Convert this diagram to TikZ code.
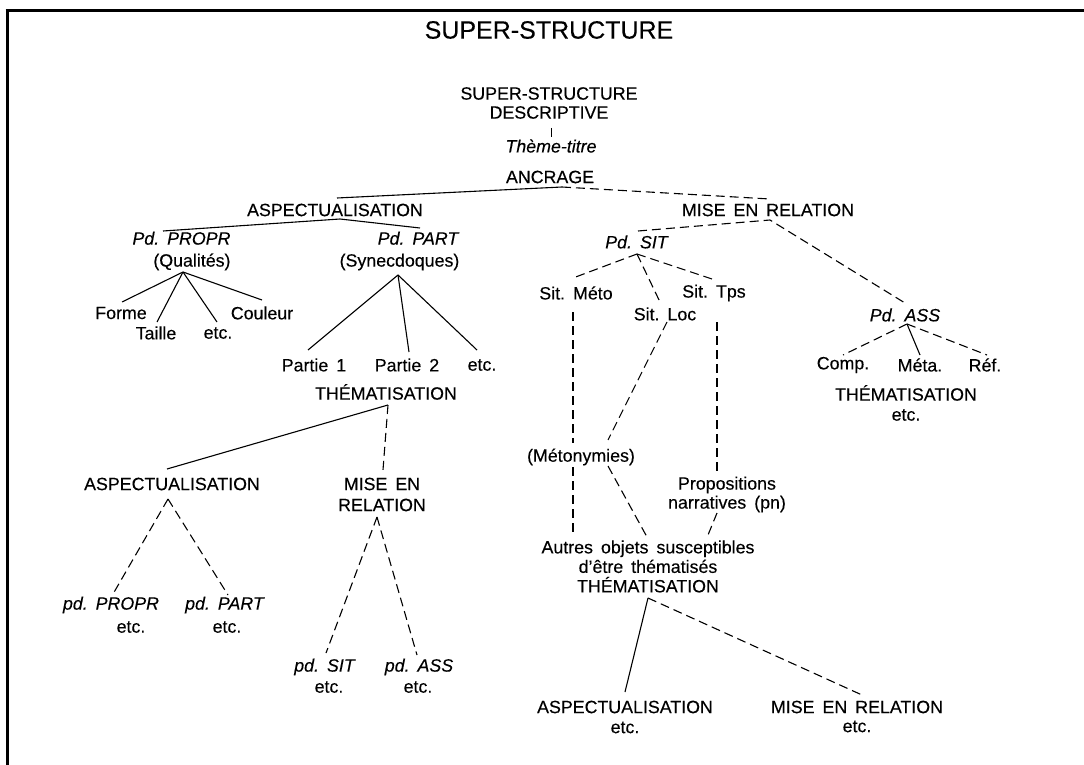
\documentclass[tikz,border=0pt]{standalone}
\usepackage{fontspec}
\setmainfont{Liberation Sans}[FakeBold=0.25]
\newcommand\lblfont{\fontsize{17.8}{20}\selectfont\spaceskip=0.45em plus 0.1em\relax\xspaceskip=0.45em plus 0.1em\relax}
\begin{document}
\begin{tikzpicture}[x=1pt,y=-1pt,
  lbl/.style={inner sep=0pt, font=\lblfont, align=center},
  ttl/.style={inner sep=0pt, font=\fontsize{25}{29}\selectfont},
  ln/.style={line width=1.1pt},
  dl/.style={line width=1.1pt, dash pattern=on 9pt off 5pt},
  frame/.style={line width=3pt}]
\useasboundingbox (0,0) rectangle (1084,765);
% partial frame
\draw[frame] (5.5,11) -- (1084,11);
\draw[frame] (7,9.5) -- (7,765);

% nodes
\node[ttl] (title) at (549,30) {SUPER-STRUCTURE};
\node[lbl] (ssd) at (549,103) {SUPER-STRUCTURE\\[-1pt]DESCRIPTIVE};
\node[lbl] (theme) at (551,146) {\textit{Thème-titre}};
\node[lbl] (ancr) at (550,177) {ANCRAGE};
\node[lbl] (asp1) at (335,210) {ASPECTUALISATION};
\node[lbl] (mer1) at (768,210) {MISE EN RELATION};
\node[lbl, align=right] (pd1) at (181.5,251) {\textit{Pd. PROPR}\\[2pt](Qualités)};
\node[lbl, align=right] (pd2) at (399.5,251) {\textit{Pd. PART}\\[2pt](Synecdoques)};
\node[lbl] (forme) at (121,313) {Forme};
\node[lbl] (taille) at (156,333) {Taille};
\node[lbl] (etc1) at (218,333) {etc.};
\node[lbl] (couleur) at (262,313) {Couleur};
\node[lbl] (part1) at (314,365) {Partie 1};
\node[lbl] (part2) at (407,365) {Partie 2};
\node[lbl] (etc2) at (482,365) {etc.};
\node[lbl] (them1) at (386,392) {THÉMATISATION};
\node[lbl] (asp2) at (172,484) {ASPECTUALISATION};
\node[lbl] (mer2) at (382,494.5) {MISE EN\\[1pt]RELATION};
\node[lbl] (pdpropr2) at (111,605) {\textit{pd. PROPR}};
\node[lbl] (etc3) at (131,627) {etc.};
\node[lbl] (pdpart2) at (225,605) {\textit{pd. PART}};
\node[lbl] (etc4) at (227,627) {etc.};
\node[lbl] (pdsit2) at (325,667) {\textit{pd. SIT}};
\node[lbl] (etc5) at (329,687) {etc.};
\node[lbl] (pdass2) at (419,667) {\textit{pd. ASS}};
\node[lbl] (etc6) at (418,687) {etc.};

\node[lbl] (pdsit) at (637,242) {\textit{Pd. SIT}};
\node[lbl] (pdass) at (905,315) {\textit{Pd. ASS}};
\node[lbl] (meto) at (576,293) {Sit. Méto};
\node[lbl] (loc) at (665,314) {Sit. Loc};
\node[lbl] (tps) at (714,293) {Sit. Tps};
\node[lbl] (meton) at (581,457) {(Métonymies)};
\node[lbl] (props) at (727,494.5) {Propositions\\[-1pt]narratives (pn)};
\node[lbl] (autres) at (648,566.5) {Autres objets susceptibles\\[-0.5pt]d’être thématisés\\[-0.5pt]THÉMATISATION};
\node[lbl] (asp3) at (625,717) {ASPECTUALISATION\\etc.};
\node[lbl] (mer3) at (857,716.5) {MISE EN RELATION\\[-1pt]etc.};
\node[lbl] (comp) at (843,365) {Comp.};
\node[lbl] (meta) at (920,365) {Méta.};
\node[lbl] (ref) at (985,365) {Réf.};
\node[lbl] (them4) at (906,403) {THÉMATISATION\\etc.};

% connectors
\draw[line width=1pt] ([shift={(2,25)}]ssd.center) -- ([shift={(0,-9)}]theme.center);
\draw[ln] ([shift={(2,-12)}]asp1.center) -- ([shift={(12,10)}]ancr.center);
\draw[dl] ([shift={(12,10)}]ancr.center) -- ([shift={(2,-11)}]mer1.center);
\draw[ln] ([shift={(-18.5,-20)}]pd1.center) -- ([shift={(5,9)}]asp1.center) -- ([shift={(20.5,-23)}]pd2.center);
% Qualités
\draw[ln] ([shift={(1.5,21)}]pd1.center) -- ([shift={(1,-11)}]forme.center);
\draw[ln] ([shift={(1.5,21)}]pd1.center) -- ([shift={(1,-11)}]taille.center);
\draw[ln] ([shift={(1.5,21)}]pd1.center) -- ([shift={(-1,-11)}]etc1.center);
\draw[ln] ([shift={(1.5,21)}]pd1.center) -- ([shift={(0,-13)}]couleur.center);
% Synecdoques
\draw[ln] ([shift={(-1.5,24)}]pd2.center) -- ([shift={(-6,-15)}]part1.center);
\draw[ln] ([shift={(-1.5,24)}]pd2.center) -- ([shift={(2,-13)}]part2.center);
\draw[ln] ([shift={(-1.5,24)}]pd2.center) -- ([shift={(-5,-15)}]etc2.center);
% Thematisation (left)
\draw[ln] ([shift={(2,13)}]them1.center) -- ([shift={(-5,-15)}]asp2.center);
\draw[dl] ([shift={(2,13)}]them1.center) -- ([shift={(1,-24.5)}]mer2.center);
\draw[dl] ([shift={(-4,15)}]asp2.center) -- ([shift={(2,-11)}]pdpropr2.center);
\draw[dl] ([shift={(-4,15)}]asp2.center) -- ([shift={(3,-10)}]pdpart2.center);
\draw[dl] ([shift={(-5,22.5)}]mer2.center) -- ([shift={(1,-14)}]pdsit2.center);
\draw[dl] ([shift={(-5,22.5)}]mer2.center) -- ([shift={(-2,-12)}]pdass2.center);
% right side
\draw[dl] ([shift={(1,-11)}]pdsit.center) -- ([shift={(2,10)}]mer1.center) -- ([shift={(0,-12)}]pdass.center);
\draw[dl] ([shift={(0,12)}]pdsit.center) -- ([shift={(-3,-15)}]meto.center);
\draw[dl] ([shift={(0,12)}]pdsit.center) -- ([shift={(-5,-12)}]loc.center);
\draw[dl] ([shift={(0,12)}]pdsit.center) -- ([shift={(1,-13)}]tps.center);
\draw[dl] ([shift={(-3,19)}]meto.center) -- ([shift={(-8,-14)}]meton.center);
\draw[dl] ([shift={(-8,10)}]meton.center) -- ([shift={(-75,-31.5)}]autres.center);
\draw[dl] ([shift={(2,8)}]loc.center) -- ([shift={(27,-17)}]meton.center);
\draw[dl] ([shift={(27,9)}]meton.center) -- ([shift={(-1,-29.5)}]autres.center);
\draw[dl] ([shift={(3,29)}]tps.center) -- ([shift={(-10,-19.5)}]props.center);
\draw[dl] ([shift={(-10,18.5)}]props.center) -- ([shift={(60,-31.5)}]autres.center);
\draw[ln] ([shift={(0,31.5)}]autres.center) -- ([shift={(0,-25)}]asp3.center);
\draw[dl] ([shift={(0,31.5)}]autres.center) -- ([shift={(5,-21.5)}]mer3.center);
\draw[dl] ([shift={(2,9)}]pdass.center) -- ([shift={(0,-10)}]comp.center);
\draw[ln] ([shift={(2,9)}]pdass.center) -- ([shift={(0,-10)}]meta.center);
\draw[dl] ([shift={(2,9)}]pdass.center) -- ([shift={(2,-10)}]ref.center);
\end{tikzpicture}
\end{document}
